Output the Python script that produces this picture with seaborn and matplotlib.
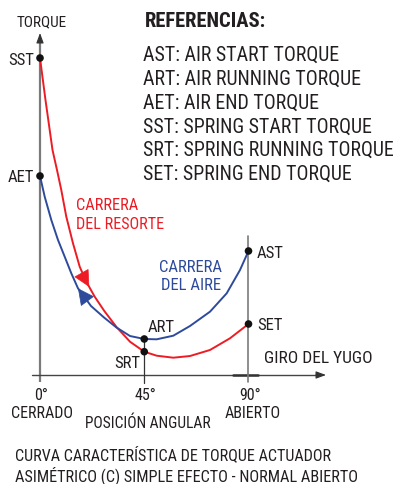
import matplotlib
matplotlib.use("Agg")
import matplotlib.pyplot as plt
import seaborn as sns
import numpy as np

# ---------------- data ----------------
# angular position (degrees) and torque (relative units, SST = 100)
spring_deg = [0, 2.37, 5.40, 7.34, 9.19, 11.35, 14.24, 17.14, 19.99, 23.61, 27.76,
              33.02, 38.85, 45.0, 50.37, 57.54, 64.75, 73.38, 82.01, 90.0]
spring_torque = [100.0, 86.75, 70.98, 64.67, 58.36, 49.94, 41.54, 34.16, 29.43, 24.70, 20.19,
                 15.14, 10.50, 7.35, 6.09, 5.46, 5.99, 7.89, 11.58, 16.09]

air_deg = [0, 2.03, 4.88, 7.77, 10.66, 13.51, 16.40, 22.01, 27.63, 33.02, 38.85, 45.0,
           50.37, 57.54, 64.75, 73.38, 80.59, 86.33, 90.0]
air_torque = [62.78, 56.25, 48.90, 42.59, 37.32, 32.08, 27.35, 21.77, 18.14, 14.98, 12.30, 11.36,
              11.26, 12.40, 15.46, 19.97, 25.77, 33.12, 39.12]

point_names = ["SST", "AET", "ART", "SRT", "AST", "SET"]
point_deg = [0, 0, 45, 45, 90, 90]
point_torque = [100.0, 62.78, 11.36, 7.35, 39.12, 16.09]

tick_deg = [0, 45, 90]
tick_labels = ["0°", "45°", "90°"]

legend_title = "REFERENCIAS:"
legend_lines = ["AST: AIR START TORQUE", "ART: AIR RUNNING TORQUE", "AET: AIR END TORQUE",
                "SST: SPRING START TORQUE", "SRT: SPRING RUNNING TORQUE", "SET: SPRING END TORQUE"]
caption = ["CURVA CARACTERÍSTICA DE TORQUE ACTUADOR",
           "ASIMÉTRICO (C) SIMPLE EFECTO - NORMAL ABIERTO"]

# ---------------- style ----------------
sns.set_theme(style="white")
plt.rcParams['font.family'] = ['Roboto Condensed', 'Liberation Sans', 'DejaVu Sans']

RED = "#ed1c24"
BLUE = "#2e4b9b"
TXT = "#231f20"
AXG = "#7a7a7a"

W, H = 406, 484
fig = plt.figure(figsize=(W / 100, H / 100), dpi=100)
ax = fig.add_axes([0, 0, 1, 1])

X0, X90, Y0, YS = 40.0, 248.5, 375.0, 3.17


def P(px, py):
    """pixel position in the picture -> data coordinates"""
    return (px - X0) * 90.0 / (X90 - X0), (Y0 - py) / YS


ax.set_xlim(P(0, 0)[0], P(W, 0)[0])
ax.set_ylim(P(0, H)[1], P(0, 0)[1])
ax.axis("off")

# ---------------- axes drawn by hand ----------------
ax.plot([0, 0], [P(0, 382)[1], P(0, 40)[1]], color=AXG, lw=1.6, solid_capstyle="butt", zorder=1)
ax.annotate("", xy=P(40, 33), xytext=P(40, 42),
            arrowprops=dict(arrowstyle="-|>,head_length=0.6,head_width=0.22", color="#333333",
                            lw=0.8, shrinkA=0, shrinkB=0, mutation_scale=10))
ax.plot([P(32, 0)[0], P(318, 0)[0]], [0, 0], color="#444444", lw=1.0, zorder=1)
ax.annotate("", xy=P(326, 375), xytext=P(316, 375),
            arrowprops=dict(arrowstyle="-|>,head_length=0.6,head_width=0.22", color="#333333",
                            lw=0.8, shrinkA=0, shrinkB=0, mutation_scale=10))
ax.plot([P(233, 0)[0], P(258, 0)[0]], [0, 0], color="#333333", lw=1.8, zorder=1)
ax.plot([90, 90], [P(0, 382)[1], P(0, 236)[1]], color=AXG, lw=1.2, zorder=1)
ax.plot([45, 45], [P(0, 383)[1], point_torque[2]], color="#333333", lw=0.9, zorder=1)

# ---------------- curves ----------------
sns.lineplot(x=spring_deg, y=spring_torque, sort=False, estimator=None, color=RED, lw=1.4, ax=ax, zorder=3)
sns.lineplot(x=air_deg, y=air_torque, sort=False, estimator=None, color=BLUE, lw=1.4, ax=ax, zorder=3)

# direction arrowheads on the curves
sd, st = np.array(spring_deg), np.array(spring_torque)
ad, at = np.array(air_deg), np.array(air_torque)
r_tip = (sd[8] + 0.35 * (sd[9] - sd[8]), st[8] + 0.35 * (st[9] - st[8]))
r_back = (r_tip[0] - 0.02 * (sd[9] - sd[8]), r_tip[1] - 0.02 * (st[9] - st[8]))
ax.annotate("", xy=r_tip, xytext=r_back,
            arrowprops=dict(arrowstyle="-|>,head_length=0.9,head_width=0.45", color=RED, lw=0.5,
                            shrinkA=0, shrinkB=0, mutation_scale=12), zorder=4)
b_tip = (ad[6], at[6])
b_back = (ad[6] + 0.02 * (ad[7] - ad[6]), at[6] + 0.02 * (at[7] - at[6]))
ax.annotate("", xy=b_tip, xytext=b_back,
            arrowprops=dict(arrowstyle="-|>,head_length=0.9,head_width=0.45", color=BLUE, lw=0.5,
                            shrinkA=0, shrinkB=0, mutation_scale=12), zorder=4)

sns.scatterplot(x=point_deg, y=point_torque, color="#111111", s=30, edgecolor="none", ax=ax, zorder=5)

# ---------------- texts ----------------
def T(px, py, s, size=12, ha="left", color=TXT, **kw):
    ax.text(*P(px, py), s, fontsize=size, ha=ha, va="baseline", color=color, **kw)


T(42, 26.7, "TORQUE", 11, ha="center")
label_pos = {"SST": (34.5, 65, "right"), "AET": (34.5, 181.5, "right"),
             "ART": (148, 331.5, "left"), "SRT": (140, 368, "right"),
             "AST": (257, 257.5, "left"), "SET": (257, 330, "left")}
for n in point_names:
    px, py, ha = label_pos[n]
    T(px, py, n, 12, ha=ha)

T(76, 210, "CARRERA", 11.8, color=RED)
T(76, 229, "DEL RESORTE", 11.6, color=RED)
T(190.5, 272, "CARRERA", 12, ha="center", color=BLUE)
T(191.5, 290.5, "DEL AIRE", 12, ha="center", color=BLUE)
T(264, 363, "GIRO DEL YUGO", 12.5)

for d, lab in zip(tick_deg, tick_labels):
    px = X0 + d * (X90 - X0) / 90.0
    T(px + 1.5, 399.5, lab, 11.5, ha="center")
T(41.7, 418.3, "CERRADO", 11.5, ha="center")
T(252.5, 418.3, "ABIERTO", 11.5, ha="center")
T(148.3, 428.3, "POSICIÓN ANGULAR", 11.2, ha="center")

T(145, 27, legend_title, 14.8, fontweight="bold")
for i, s in enumerate(legend_lines):
    T(143, 61 + 23.8 * i, s, 14.3)

T(15, 460, caption[0], 11.6)
T(15, 480.7, caption[1], 11.7)

fig.savefig("out.png", dpi=100)
